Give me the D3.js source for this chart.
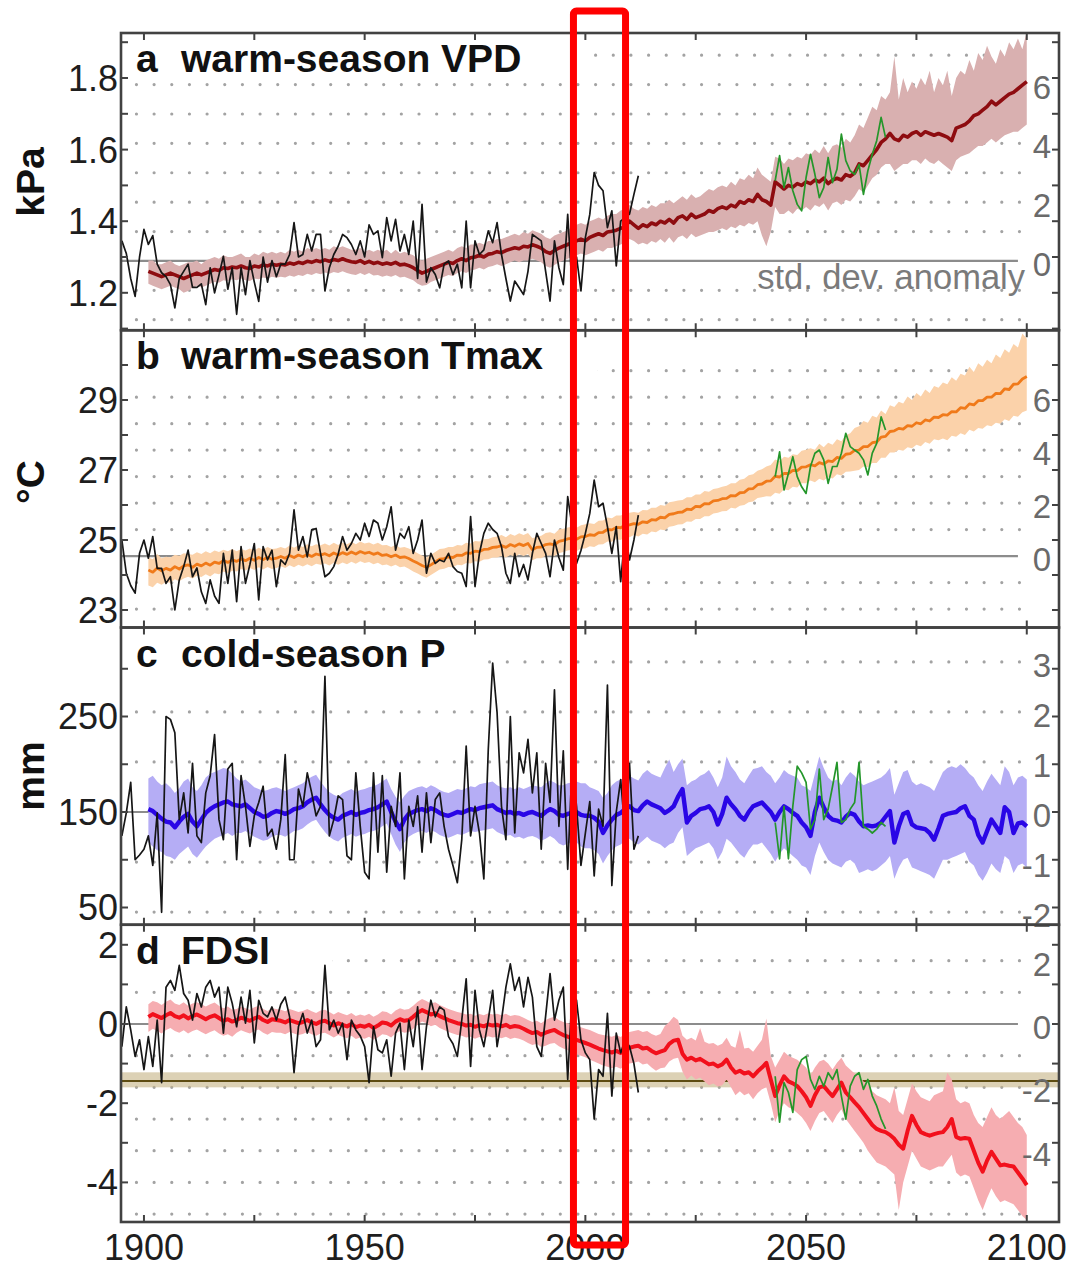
<!DOCTYPE html>
<html>
<head>
<meta charset="utf-8">
<script src="https://cdn.jsdelivr.net/npm/d3@7"></script>
<style>
  body { margin: 0; background: #fff; }
  svg { display: block; }
  text { font-family: "Liberation Sans", Arial, Helvetica, sans-serif; }
</style>
</head>
<body>
<svg id="chart" width="1071" height="1277"></svg>
<script>
// ---------------- data ----------------
const obsStart = 1895;     // observed record, annual
const modelStart = 1901;   // model ensemble, annual to 2100
const greenStart = 2043;   // single-run segment

const yearTicks = [1900, 1950, 2000, 2050, 2100];
const yearMinorTicks = [1900, 1925, 1950, 1975, 2000, 2025, 2050, 2075, 2100];
const highlightYears = [1997.3, 2009.1];

// a: warm-season VPD (kPa)
const vpdTicks = [1.2, 1.4, 1.6, 1.8];
const vpdMinorTicks = [1.1, 1.2, 1.3, 1.4, 1.5, 1.6, 1.7, 1.8, 1.9];
const vpdStdLabels = [0, 2, 4, 6];
const vpdStdRows = [-2, -1, 0, 1, 2, 3, 4, 5, 6, 7];
const vpdObs = [
  1.345,1.31,1.24,1.19,1.30,1.377,1.335,1.36,1.28,1.256,
  1.245,1.223,1.158,1.24,1.26,1.28,1.215,1.215,1.225,1.167,
  1.27,1.20,1.25,1.302,1.21,1.27,1.14,1.27,1.195,1.29,
  1.23,1.176,1.30,1.23,1.29,1.245,1.28,1.28,1.307,1.396,
  1.30,1.307,1.363,1.317,1.363,1.363,1.205,1.27,1.307,1.33,
  1.363,1.354,1.335,1.307,1.345,1.30,1.39,1.363,1.373,1.298,
  1.41,1.345,1.405,1.317,1.363,1.307,1.40,1.24,1.447,1.23,
  1.27,1.251,1.214,1.28,1.289,1.251,1.28,1.214,1.40,1.214,
  1.345,1.307,1.32,1.373,1.34,1.396,1.307,1.24,1.177,1.233,
  1.214,1.195,1.26,1.363,1.354,1.345,1.26,1.177,1.345,1.27,
  1.223,1.419,1.214,1.30,1.205,1.354,1.419,1.536,1.50,1.485,
  1.382,1.429,1.275,1.40,1.41,1.42,1.475,1.527
];
const vpdMean = [
  1.26,1.255,1.25,1.245,1.25,1.255,1.25,1.245,1.24,1.245,
  1.25,1.255,1.25,1.255,1.26,1.265,1.262,1.27,1.268,1.272,
  1.27,1.275,1.27,1.268,1.275,1.272,1.278,1.275,1.28,1.277,
  1.28,1.278,1.283,1.28,1.285,1.282,1.288,1.285,1.29,1.287,
  1.292,1.288,1.293,1.29,1.295,1.29,1.287,1.285,1.29,1.283,
  1.288,1.282,1.285,1.28,1.283,1.28,1.285,1.278,1.28,1.276,
  1.27,1.262,1.255,1.26,1.265,1.27,1.275,1.28,1.285,1.282,
  1.29,1.295,1.29,1.298,1.30,1.305,1.30,1.308,1.31,1.315,
  1.312,1.318,1.322,1.326,1.323,1.33,1.328,1.334,1.33,1.325,
  1.315,1.31,1.318,1.325,1.33,1.335,1.34,1.345,1.35,1.345,
  1.355,1.36,1.365,1.36,1.37,1.372,1.375,1.38,1.385,1.40,
  1.39,1.38,1.39,1.385,1.395,1.39,1.40,1.395,1.405,1.395,
  1.41,1.415,1.405,1.42,1.41,1.415,1.42,1.43,1.425,1.435,
  1.44,1.435,1.445,1.44,1.455,1.45,1.46,1.455,1.475,1.46,
  1.455,1.445,1.51,1.50,1.49,1.50,1.495,1.505,1.50,1.51,
  1.505,1.515,1.51,1.52,1.505,1.515,1.52,1.515,1.53,1.525,
  1.535,1.56,1.555,1.57,1.585,1.60,1.62,1.63,1.645,1.63,
  1.625,1.64,1.635,1.645,1.65,1.64,1.65,1.645,1.64,1.645,
  1.64,1.635,1.625,1.66,1.665,1.67,1.68,1.695,1.70,1.71,
  1.72,1.735,1.725,1.735,1.745,1.755,1.76,1.77,1.78,1.79
];
const vpdHi = [
  1.29,1.29,1.28,1.28,1.285,1.29,1.28,1.275,1.28,1.285,
  1.285,1.29,1.28,1.29,1.295,1.30,1.295,1.305,1.30,1.30,
  1.305,1.31,1.30,1.30,1.31,1.305,1.315,1.31,1.315,1.31,
  1.315,1.31,1.32,1.315,1.32,1.315,1.325,1.32,1.325,1.32,
  1.325,1.32,1.33,1.325,1.33,1.325,1.32,1.32,1.325,1.315,
  1.32,1.315,1.32,1.315,1.32,1.31,1.32,1.31,1.315,1.31,
  1.305,1.295,1.29,1.295,1.30,1.305,1.31,1.315,1.32,1.315,
  1.325,1.33,1.325,1.335,1.335,1.34,1.335,1.345,1.345,1.35,
  1.35,1.355,1.36,1.365,1.36,1.37,1.365,1.375,1.37,1.365,
  1.355,1.35,1.36,1.365,1.37,1.375,1.385,1.39,1.395,1.39,
  1.40,1.405,1.41,1.405,1.415,1.42,1.42,1.43,1.435,1.445,
  1.435,1.43,1.44,1.435,1.445,1.44,1.45,1.45,1.46,1.45,
  1.46,1.47,1.46,1.475,1.465,1.47,1.48,1.49,1.485,1.495,
  1.50,1.495,1.51,1.50,1.52,1.515,1.53,1.52,1.55,1.53,
  1.52,1.51,1.58,1.575,1.56,1.575,1.57,1.58,1.575,1.59,
  1.585,1.60,1.59,1.61,1.59,1.61,1.615,1.605,1.63,1.62,
  1.64,1.67,1.66,1.69,1.72,1.71,1.75,1.74,1.76,1.86,
  1.74,1.80,1.76,1.79,1.77,1.80,1.78,1.82,1.76,1.80,
  1.78,1.82,1.75,1.80,1.82,1.81,1.85,1.82,1.87,1.85,
  1.89,1.86,1.84,1.88,1.86,1.90,1.88,1.91,1.88,1.93
];
const vpdLo = [
  1.225,1.22,1.215,1.21,1.215,1.22,1.215,1.21,1.20,1.205,
  1.215,1.22,1.215,1.22,1.225,1.23,1.228,1.235,1.233,1.238,
  1.235,1.24,1.235,1.233,1.24,1.238,1.243,1.24,1.245,1.242,
  1.245,1.243,1.248,1.245,1.25,1.247,1.253,1.25,1.255,1.252,
  1.257,1.253,1.258,1.255,1.26,1.255,1.252,1.25,1.255,1.25,
  1.255,1.248,1.25,1.245,1.248,1.245,1.25,1.243,1.245,1.24,
  1.235,1.225,1.22,1.222,1.23,1.235,1.24,1.245,1.25,1.247,
  1.255,1.26,1.255,1.262,1.265,1.27,1.265,1.272,1.275,1.28,
  1.275,1.28,1.285,1.29,1.285,1.29,1.29,1.295,1.29,1.285,
  1.275,1.27,1.278,1.285,1.29,1.295,1.30,1.305,1.31,1.305,
  1.31,1.315,1.32,1.315,1.325,1.325,1.33,1.335,1.34,1.35,
  1.345,1.335,1.34,1.335,1.345,1.34,1.35,1.34,1.355,1.34,
  1.355,1.36,1.35,1.365,1.355,1.36,1.365,1.37,1.37,1.375,
  1.38,1.375,1.385,1.38,1.39,1.385,1.395,1.39,1.40,1.36,
  1.33,1.37,1.44,1.42,1.42,1.43,1.42,1.435,1.43,1.44,
  1.43,1.445,1.44,1.45,1.43,1.45,1.455,1.445,1.46,1.455,
  1.47,1.49,1.48,1.50,1.52,1.53,1.55,1.56,1.56,1.54,
  1.55,1.56,1.56,1.57,1.57,1.56,1.575,1.565,1.56,1.57,
  1.56,1.55,1.54,1.57,1.58,1.585,1.59,1.60,1.61,1.61,
  1.62,1.63,1.62,1.63,1.64,1.645,1.65,1.65,1.66,1.67
];
const vpdGreen = [
  1.513,1.583,1.494,1.55,1.485,1.447,1.429,1.522,1.587,1.531,
  1.466,1.494,1.578,1.508,1.545,1.643,1.569,1.541,1.531,1.559,
  1.475,1.541,1.587,1.625,1.69,1.634
];

// b: warm-season Tmax (°C)
const tmaxTicks = [23, 25, 27, 29];
const tmaxMinorTicks = [23, 24, 25, 26, 27, 28, 29, 30];
const tmaxStdLabels = [0, 2, 4, 6];
const tmaxStdRows = [-2, -1, 0, 1, 2, 3, 4, 5, 6, 7];
const tmaxObs = [
  25.0,24.05,23.7,23.48,24.62,25.0,24.48,25.10,24.19,24.19,
  23.76,23.95,23.0,23.86,24.24,24.71,23.95,24.2,23.52,23.19,
  23.86,23.4,23.19,24.62,23.76,24.71,23.24,24.81,23.76,24.3,
  24.90,23.29,24.81,24.43,24.71,23.67,24.43,24.3,24.62,25.86,
  24.71,25.10,24.52,25.29,25.33,24.62,23.95,24.05,24.24,24.6,
  25.10,24.71,24.9,25.19,25.0,25.48,25.10,25.57,25.48,25.0,
  25.38,25.95,24.71,25.19,25.05,25.38,24.62,25.0,25.57,24.05,
  24.62,24.33,24.43,24.38,24.62,24.24,24.1,24.05,23.67,25.67,
  23.67,24.62,25.19,25.48,25.3,25.19,24.81,24.05,23.76,24.62,
  23.95,24.3,23.86,24.62,25.19,24.9,24.62,23.95,25.0,24.5,
  24.14,26.24,25.38,24.33,24.7,25.19,25.76,26.71,25.95,26.05,
  25.38,24.62,25.38,23.81,25.19,24.43,25.0,25.71
];
const tmaxMean = [
  24.14,24.08,24.20,24.12,24.19,24.14,24.24,24.17,24.26,24.29,
  24.22,24.31,24.26,24.34,24.28,24.37,24.33,24.41,24.36,24.43,
  24.39,24.46,24.41,24.48,24.42,24.50,24.44,24.51,24.45,24.48,
  24.53,24.48,24.56,24.50,24.57,24.52,24.59,24.53,24.60,24.57,
  24.61,24.55,24.63,24.57,24.64,24.59,24.66,24.60,24.67,24.62,
  24.65,24.59,24.63,24.56,24.58,24.52,24.57,24.50,24.52,24.47,
  24.40,24.34,24.27,24.22,24.29,24.37,24.45,24.47,24.52,24.50,
  24.57,24.56,24.63,24.62,24.68,24.67,24.73,24.74,24.79,24.80,
  24.84,24.79,24.87,24.82,24.89,24.84,24.90,24.72,24.79,24.80,
  24.87,24.89,24.86,24.96,24.99,25.03,25.05,25.02,25.09,25.10,
  25.15,25.13,25.21,25.22,25.30,25.29,25.36,25.35,25.42,25.43,
  25.47,25.45,25.52,25.50,25.58,25.57,25.65,25.63,25.73,25.75,
  25.79,25.80,25.88,25.87,25.96,25.95,26.04,26.03,26.12,26.13,
  26.18,26.19,26.27,26.26,26.35,26.36,26.46,26.47,26.58,26.60,
  26.68,26.69,26.82,26.80,26.90,26.90,26.99,26.98,27.08,27.09,
  27.15,27.12,27.21,27.17,27.26,27.24,27.36,27.33,27.45,27.47,
  27.56,27.57,27.67,27.67,27.78,27.80,27.94,27.96,28.10,28.12,
  28.19,28.17,28.27,28.25,28.35,28.32,28.43,28.40,28.51,28.50,
  28.58,28.57,28.67,28.66,28.78,28.76,28.89,28.86,28.98,28.98,
  29.08,29.08,29.19,29.18,29.32,29.30,29.45,29.46,29.60,29.67
];
const tmaxHi = [
  24.50,24.45,24.60,24.48,24.52,24.50,24.58,24.55,24.62,24.60,
  24.58,24.65,24.60,24.68,24.62,24.70,24.66,24.72,24.68,24.74,
  24.68,24.74,24.70,24.76,24.70,24.78,24.72,24.80,24.74,24.76,
  24.80,24.76,24.84,24.78,24.85,24.80,24.88,24.82,24.88,24.85,
  24.90,24.84,24.92,24.86,24.93,24.88,24.95,24.88,24.96,24.90,
  24.93,24.87,24.92,24.85,24.86,24.80,24.86,24.78,24.80,24.76,
  24.70,24.62,24.56,24.50,24.58,24.66,24.74,24.76,24.80,24.80,
  24.86,24.84,24.92,24.90,24.97,24.96,25.02,25.03,25.08,25.10,
  25.14,25.08,25.17,25.12,25.19,25.14,25.20,25.05,25.10,25.12,
  25.20,25.22,25.18,25.30,25.32,25.36,25.38,25.35,25.42,25.45,
  25.48,25.46,25.55,25.56,25.64,25.62,25.70,25.70,25.76,25.78,
  25.80,25.78,25.86,25.85,25.92,25.92,26.00,25.98,26.08,26.10,
  26.13,26.14,26.22,26.22,26.30,26.30,26.40,26.38,26.46,26.48,
  26.52,26.55,26.62,26.62,26.72,26.75,26.85,26.88,26.98,27.02,
  27.10,27.14,27.30,27.25,27.38,27.35,27.45,27.43,27.55,27.58,
  27.62,27.58,27.75,27.65,27.78,27.72,27.88,27.82,28.00,28.05,
  28.20,28.25,28.40,28.35,28.55,28.50,28.70,28.60,28.85,28.80,
  28.95,28.90,29.10,29.00,29.20,29.10,29.30,29.20,29.40,29.35,
  29.50,29.45,29.65,29.55,29.75,29.70,29.95,29.80,30.05,29.95,
  30.15,30.05,30.30,30.20,30.45,30.35,30.60,30.50,30.90,30.75
];
const tmaxLo = [
  23.70,23.65,23.78,23.72,23.80,23.78,23.88,23.82,23.90,23.95,
  23.90,23.98,23.94,24.02,23.96,24.05,24.02,24.10,24.05,24.12,
  24.10,24.17,24.13,24.20,24.14,24.22,24.16,24.23,24.17,24.20,
  24.25,24.20,24.28,24.22,24.29,24.24,24.31,24.25,24.32,24.29,
  24.33,24.27,24.35,24.29,24.36,24.31,24.38,24.32,24.39,24.34,
  24.37,24.31,24.35,24.28,24.30,24.24,24.29,24.22,24.24,24.18,
  24.10,24.04,23.97,23.92,24.00,24.08,24.16,24.18,24.23,24.22,
  24.29,24.28,24.34,24.33,24.39,24.38,24.44,24.45,24.50,24.50,
  24.54,24.50,24.57,24.52,24.59,24.54,24.60,24.42,24.48,24.48,
  24.55,24.56,24.54,24.62,24.66,24.70,24.72,24.68,24.76,24.76,
  24.82,24.80,24.87,24.88,24.96,24.95,25.02,25.00,25.08,25.08,
  25.14,25.10,25.18,25.16,25.24,25.22,25.30,25.28,25.38,25.40,
  25.44,25.45,25.53,25.52,25.60,25.60,25.68,25.68,25.76,25.78,
  25.82,25.83,25.92,25.90,25.98,26.00,26.08,26.10,26.20,26.22,
  26.25,26.24,26.35,26.32,26.44,26.42,26.52,26.50,26.62,26.62,
  26.70,26.65,26.75,26.70,26.80,26.76,26.88,26.84,26.95,26.96,
  26.98,27.00,27.10,27.08,27.20,27.20,27.35,27.35,27.50,27.50,
  27.58,27.55,27.65,27.62,27.72,27.68,27.80,27.75,27.88,27.85,
  27.90,27.85,27.98,27.95,28.05,28.00,28.15,28.10,28.20,28.18,
  28.28,28.25,28.35,28.32,28.45,28.40,28.55,28.52,28.65,28.70
];
const tmaxGreen = [
  26.81,27.52,26.43,26.90,27.38,26.81,26.52,26.33,27.10,27.48,
  27.57,27.29,26.62,27.10,27.10,27.48,28.05,27.67,27.57,27.48,
  27.29,26.86,27.48,27.76,28.52,28.14
];

// c: cold-season P (mm)
const precipTicks = [50, 150, 250];
const precipMinorTicks = [50, 100, 150, 200, 250, 300];
const precipStdLabels = [-2, -1, 0, 1, 2, 3];
const precipStdRows = [-2, -1, 0, 1, 2, 3];
const precipObs = [
  125,149,181,100,105,111,125,94,149,45,
  250,247,233,142,170,128,201,125,118,170,
  188,231,142,121,195,201,100,188,156,114,
  146,160,177,125,132,111,142,210,100,100,
  174,156,191,170,146,156,292,125,142,167,
  163,104,100,191,135,87,80,191,108,188,
  87,156,135,191,80,156,135,167,108,170,
  118,163,170,135,111,94,76,121,219,125,
  156,128,80,215,306,254,156,121,250,128,
  212,191,226,170,212,111,201,160,278,135,
  214,90,201,156,94,128,161,83,153,135,
  283,73,150,184,128,201,111,125
];
const precipMean = [
  153,151,147,143,140,139,134,140,145,148,
  140,135,142,149,153,156,158,160,161,158,
  157,156,158,154,150,148,145,146,149,151,
  150,148,150,153,154,156,160,163,165,158,
  152,147,144,142,146,148,150,147,149,150,
  152,153,155,158,161,150,140,132,142,148,
  150,152,153,151,154,152,149,147,146,148,
  150,149,151,153,152,154,155,156,157,153,
  151,149,150,148,149,147,149,150,148,146,
  150,153,151,147,146,148,149,150,147,146,
  146,144,140,128,136,142,147,149,153,156,
  152,151,157,161,158,156,154,149,152,156,
  166,174,139,146,149,153,154,156,150,137,
  148,165,158,153,146,142,150,156,158,160,
  155,150,142,150,156,153,149,146,139,134,
  125,150,165,155,146,142,141,139,145,149,
  147,140,135,136,135,136,139,145,151,118,
  135,148,150,137,134,133,132,128,121,133,
  146,148,149,150,154,156,146,142,126,118,
  130,142,135,128,155,150,128,138,139,135
];
const precipHi = [
  185,188,182,178,180,176,170,175,182,185,
  176,172,178,186,190,192,194,196,195,190,
  185,182,184,180,176,174,172,173,175,176,
  174,172,174,176,178,180,184,187,189,182,
  176,171,168,166,170,172,174,171,173,174,
  176,177,179,182,185,174,166,160,167,172,
  174,176,177,175,178,176,173,171,170,172,
  174,173,175,177,176,179,180,181,182,178,
  176,175,176,174,176,174,176,178,177,176,
  180,183,181,178,178,180,181,182,180,180,
  176,174,172,165,170,178,182,184,186,188,
  185,183,190,194,190,188,186,196,205,192,
  200,206,178,182,184,188,190,194,186,176,
  186,208,198,192,184,180,188,195,196,198,
  192,188,180,186,194,190,188,186,178,176,
  172,190,208,196,186,182,184,178,186,192,
  188,182,178,180,182,184,186,190,196,168,
  180,192,194,182,178,180,178,176,172,182,
  192,196,198,196,200,196,190,186,178,172,
  182,190,184,178,198,192,178,186,188,184
];
const precipLo = [
  118,114,110,108,104,103,100,106,110,114,
  106,102,108,114,118,122,124,126,128,125,
  128,128,130,127,124,122,120,121,124,126,
  126,124,127,130,131,133,137,140,142,135,
  129,124,121,119,123,125,127,124,126,127,
  129,130,132,135,138,127,116,108,118,124,
  127,129,130,128,131,129,126,124,123,125,
  127,126,128,130,129,130,131,132,133,129,
  127,125,126,123,124,122,124,125,123,120,
  122,125,122,117,115,117,118,118,114,112,
  112,110,106,96,104,110,114,116,120,122,
  118,116,120,124,120,118,116,112,116,118,
  128,134,104,108,112,114,116,118,112,100,
  108,122,118,112,106,102,110,116,116,118,
  112,106,98,106,112,108,104,100,94,92,
  84,104,118,108,100,96,94,92,98,100,
  96,86,88,90,88,90,94,98,104,80,
  92,100,102,92,90,88,86,84,80,90,
  100,100,102,104,106,108,98,94,84,78,
  86,96,90,86,104,100,86,94,96,92
];
const precipGreen = [
  139,101,156,101,156,198,191,181,132,142,
  195,142,153,177,202,139,142,153,160,202,
  135,132,128,132,139,135
];

// d: FDSI
const fdsiTicks = [-4, -2, 0, 2];
const fdsiMinorTicks = [-4, -3, -2, -1, 0, 1, 2];
const fdsiStdLabels = [-4, -2, 0, 2];
const fdsiStdRows = [-6, -5, -4, -3, -2, -1, 0, 1, 2];
const droughtBand = [-1.6, -1.22];
const droughtLevel = -1.44;
const fdsiObs = [
  -0.57,0.43,-0.15,-0.82,-0.4,-1.15,-0.32,-1.07,0.1,-1.48,
  0.93,1.1,0.85,1.48,0.77,0.6,0.1,0.77,0.43,0.93,
  1.1,0.68,0.93,-0.23,0.93,0.52,-0.07,0.68,0.02,0.85,
  -0.48,0.6,0.27,0.18,0.43,0.1,0.5,0.68,0.18,-1.23,
  -0.07,0.27,-0.23,0.1,-0.57,-0.4,1.48,-0.15,0.1,-0.23,
  0.02,-0.9,0.1,-0.15,-0.3,-0.57,-1.48,-0.07,-0.65,-0.73,
  -0.4,-1.32,-0.23,0.02,-1.15,0.1,-0.57,0.43,-1.15,-0.07,
  0.6,0.18,0.43,0.35,-0.32,-0.5,-0.82,0.1,1.14,-1.07,
  0.85,-0.15,-0.57,0.1,0.85,-0.57,0.1,0.93,1.52,0.85,
  1.18,0.43,1.18,0.68,-0.57,-0.82,0.2,1.27,0.1,0.6,
  0.93,-1.4,0.77,0.6,-0.4,-0.73,-0.9,-2.4,-1.15,-1.32,
  0.27,-1.82,-0.23,-0.73,-0.4,-0.57,-1.0,-1.73
];
const fdsiMean = [
  0.18,0.25,0.20,0.15,0.22,0.28,0.20,0.16,0.22,0.14,
  0.20,0.24,0.18,0.12,0.18,0.22,0.15,0.08,0.12,0.06,
  0.10,0.16,0.12,0.08,0.14,0.18,0.10,0.05,0.12,0.10,
  0.08,0.04,0.10,0.06,0.02,0.05,0.10,0.04,0.00,0.06,
  0.08,0.02,-0.04,0.02,-0.02,-0.06,0.00,-0.08,-0.04,-0.07,
  -0.02,-0.10,-0.04,0.04,0.02,-0.04,0.06,0.12,0.08,0.10,
  0.18,0.28,0.35,0.30,0.24,0.27,0.20,0.15,0.10,0.06,
  0.02,0.00,-0.04,-0.02,-0.07,-0.03,-0.06,-0.01,-0.04,-0.02,
  -0.06,-0.02,-0.08,-0.05,-0.07,-0.12,-0.18,-0.23,-0.20,-0.27,
  -0.22,-0.18,-0.15,-0.22,-0.28,-0.32,-0.36,-0.40,-0.44,-0.48,
  -0.52,-0.57,-0.62,-0.66,-0.69,-0.72,-0.68,-0.73,-0.65,-0.60,
  -0.57,-0.55,-0.62,-0.60,-0.68,-0.74,-0.70,-0.66,-0.50,-0.42,
  -0.40,-0.75,-0.90,-0.85,-0.92,-0.88,-0.95,-1.02,-1.00,-1.07,
  -1.02,-0.90,-1.10,-1.23,-1.18,-1.25,-1.22,-1.32,-1.20,-1.10,
  -0.98,-1.40,-1.82,-1.55,-1.32,-1.45,-1.50,-1.57,-1.70,-1.85,
  -2.07,-1.80,-1.60,-1.57,-1.70,-1.82,-1.65,-1.48,-1.73,-1.85,
  -1.98,-2.10,-2.25,-2.40,-2.55,-2.65,-2.70,-2.73,-2.80,-2.90,
  -3.05,-3.15,-2.70,-2.32,-2.55,-2.73,-2.78,-2.82,-2.78,-2.75,
  -2.73,-2.60,-2.40,-2.85,-2.90,-2.88,-2.90,-3.20,-3.50,-3.73,
  -3.45,-3.23,-3.40,-3.57,-3.55,-3.58,-3.60,-3.75,-3.90,-4.07
];
const fdsiHi = [
  0.50,0.58,0.55,0.48,0.56,0.62,0.52,0.48,0.55,0.46,
  0.52,0.55,0.50,0.44,0.50,0.54,0.46,0.40,0.44,0.36,
  0.38,0.44,0.40,0.36,0.42,0.46,0.38,0.33,0.40,0.38,
  0.36,0.32,0.38,0.34,0.30,0.33,0.38,0.32,0.28,0.34,
  0.36,0.30,0.24,0.30,0.26,0.22,0.28,0.20,0.24,0.21,
  0.26,0.18,0.24,0.32,0.30,0.24,0.34,0.40,0.36,0.38,
  0.46,0.56,0.63,0.58,0.52,0.55,0.48,0.43,0.38,0.34,
  0.30,0.28,0.24,0.26,0.21,0.25,0.22,0.27,0.24,0.26,
  0.22,0.26,0.20,0.23,0.21,0.16,0.10,0.05,0.08,0.02,
  0.10,0.15,0.18,0.10,0.05,0.02,-0.02,-0.05,-0.08,-0.12,
  -0.15,-0.20,-0.25,-0.28,-0.30,-0.32,-0.28,-0.33,-0.25,-0.20,
  -0.18,-0.15,-0.20,-0.18,-0.25,-0.30,-0.25,-0.05,0.05,0.18,
  0.10,-0.30,-0.40,-0.35,-0.42,-0.10,-0.45,-0.50,-0.48,-0.55,
  -0.50,-0.35,-0.55,-0.60,-0.15,-0.62,-0.60,-0.70,-0.55,-0.40,
  0.14,-0.80,-1.10,-0.90,-0.70,-0.80,-0.85,-0.90,-1.00,-1.10,
  -1.30,-1.10,-0.95,-0.90,-1.00,-1.15,-0.98,-0.85,-1.05,-1.15,
  -1.25,-1.30,-1.45,-1.55,-1.70,-1.80,-1.85,-1.90,-2.00,-1.60,
  -2.20,-2.30,-1.90,-1.50,-1.70,-1.85,-1.90,-1.95,-1.80,-1.75,
  -1.70,-1.23,-1.40,-1.90,-2.00,-1.95,-2.00,-2.30,-2.50,-2.60,
  -2.35,-2.10,-2.30,-2.40,-2.30,-2.20,-2.35,-2.50,-2.60,-2.80
];
const fdsiLo = [
  -0.20,-0.12,-0.18,-0.24,-0.15,-0.10,-0.18,-0.22,-0.16,-0.24,
  -0.18,-0.14,-0.20,-0.26,-0.20,-0.16,-0.24,-0.30,-0.26,-0.32,
  -0.22,-0.16,-0.20,-0.24,-0.18,-0.14,-0.22,-0.27,-0.20,-0.22,
  -0.22,-0.26,-0.20,-0.24,-0.28,-0.25,-0.20,-0.26,-0.30,-0.24,
  -0.22,-0.28,-0.34,-0.28,-0.32,-0.36,-0.30,-0.38,-0.34,-0.37,
  -0.32,-0.40,-0.34,-0.26,-0.28,-0.34,-0.24,-0.18,-0.22,-0.20,
  -0.12,-0.02,0.06,0.02,-0.06,-0.02,-0.10,-0.15,-0.20,-0.24,
  -0.28,-0.30,-0.34,-0.32,-0.37,-0.33,-0.36,-0.31,-0.34,-0.32,
  -0.36,-0.32,-0.38,-0.35,-0.37,-0.42,-0.48,-0.53,-0.50,-0.58,
  -0.55,-0.50,-0.48,-0.56,-0.62,-0.66,-0.72,-0.76,-0.80,-0.84,
  -0.90,-0.95,-1.00,-1.05,-1.08,-1.12,-1.08,-1.13,-1.05,-1.00,
  -0.98,-0.95,-1.02,-1.00,-1.10,-1.18,-1.12,-1.10,-0.95,-0.88,
  -0.85,-1.20,-1.40,-1.30,-1.40,-1.35,-1.45,-1.55,-1.50,-1.58,
  -1.55,-1.40,-1.60,-1.80,-1.70,-1.80,-1.75,-1.90,-1.75,-1.65,
  -1.60,-2.00,-2.48,-2.20,-2.00,-2.10,-2.15,-2.25,-2.35,-2.50,
  -2.70,-2.45,-2.25,-2.20,-2.35,-2.50,-2.30,-2.15,-2.40,-2.55,
  -2.70,-2.85,-3.00,-3.20,-3.35,-3.50,-3.55,-3.60,-3.70,-3.80,
  -4.70,-4.00,-3.60,-3.20,-3.40,-3.60,-3.65,-3.70,-3.65,-3.60,
  -3.60,-3.45,-3.30,-3.75,-3.85,-3.80,-3.85,-4.15,-4.45,-4.70,
  -4.40,-4.15,-4.35,-4.50,-4.45,-4.50,-4.55,-4.70,-4.85,-4.95
];
const fdsiGreen = [
  -1.32,-2.48,-1.48,-1.73,-2.23,-1.15,-0.9,-0.82,-1.4,-1.65,
  -1.32,-1.57,-1.23,-1.4,-1.15,-1.82,-2.4,-1.57,-1.32,-1.23,
  -1.65,-1.4,-1.82,-2.07,-2.4,-2.65
];

// ---------------- panel setup ----------------
const panels = [
  { letter: "a", name: "warm-season VPD", unit: "kPa", unitY: 182,
    obs: vpdObs, mean: vpdMean, lo: vpdLo, hi: vpdHi, green: vpdGreen,
    ticks: vpdTicks, minor: vpdMinorTicks, domain: [1.0954, 1.9257],
    stdZero: 1.289, stdStep: 0.0821, stdRows: vpdStdRows, stdLabels: vpdStdLabels,
    line: "#8e0c10", lineW: 3.6, band: "#d9b0b0", titleBoxRight: 590, stdNote: true },
  { letter: "b", name: "warm-season Tmax", unit: "°C", unitY: 482,
    obs: tmaxObs, mean: tmaxMean, lo: tmaxLo, hi: tmaxHi, green: tmaxGreen,
    ticks: tmaxTicks, minor: tmaxMinorTicks, domain: [22.5, 30.993],
    stdZero: 24.54, stdStep: 0.757, stdRows: tmaxStdRows, stdLabels: tmaxStdLabels,
    line: "#f07a1a", lineW: 2.8, band: "#fbd2aa", titleBoxRight: 597 },
  { letter: "c", name: "cold-season P", unit: "mm", unitY: 776,
    obs: precipObs, mean: precipMean, lo: precipLo, hi: precipHi, green: precipGreen,
    ticks: precipTicks, minor: precipMinorTicks, domain: [31.94, 343.2],
    stdZero: 150, stdStep: 52.4, stdRows: precipStdRows, stdLabels: precipStdLabels,
    line: "#2a06e6", lineW: 4.4, band: "#b5adf5", titleBoxRight: 487 },
  { letter: "d", name: "FDSI", unit: null,
    obs: fdsiObs, mean: fdsiMean, lo: fdsiLo, hi: fdsiHi, green: fdsiGreen,
    ticks: fdsiTicks, minor: fdsiMinorTicks, domain: [-5.0, 2.506],
    stdZero: 0, stdStep: 0.8, stdRows: fdsiStdRows, stdLabels: fdsiStdLabels,
    line: "#f2101c", lineW: 4.0, band: "#f6adb1", titleBoxRight: 332, drought: true }
];

// ---------------- drawing ----------------
const W = 1071, H = 1277;
const frameLeft = 121, frameRight = 1059, frameTop = 33, panelH = 297.25;
const frameColor = "#424242";
const tickLen = 7;

const svg = d3.select("#chart");
svg.append("rect").attr("width", W).attr("height", H).attr("fill", "#fff");

const x = d3.scaleLinear().domain([1894.8, 2107.3]).range([frameLeft, frameRight]);

panels.forEach((p, i) => {
  const top = frameTop + i * panelH;
  const bottom = top + panelH;
  const y = d3.scaleLinear().domain(p.domain).range([bottom, top]);
  const stdY = s => y(p.stdZero + s * p.stdStep);

  const clipId = "panel-clip-" + i;
  svg.append("clipPath").attr("id", clipId)
    .append("rect").attr("x", frameLeft).attr("y", top)
    .attr("width", frameRight - frameLeft).attr("height", panelH);

  const g = svg.append("g").attr("clip-path", `url(#${clipId})`);

  // dotted std-anomaly grid rows
  g.selectAll("line.grid").data(p.stdRows.filter(s => s !== 0)).join("line")
    .attr("class", "grid")
    .attr("x1", x(1898.3)).attr("x2", x(2101))
    .attr("y1", d => stdY(d)).attr("y2", d => stdY(d))
    .attr("stroke", "#a3a3a3").attr("stroke-width", 3.2)
    .attr("stroke-linecap", "round").attr("stroke-dasharray", "0 17.66");

  // zero anomaly line
  g.append("line")
    .attr("x1", frameLeft).attr("x2", x(2098))
    .attr("y1", stdY(0)).attr("y2", stdY(0))
    .attr("stroke", "#8c8c8c").attr("stroke-width", 2.2);

  // drought threshold band
  if (p.drought) {
    g.append("rect")
      .attr("x", frameLeft).attr("width", frameRight - frameLeft)
      .attr("y", y(droughtBand[1])).attr("height", y(droughtBand[0]) - y(droughtBand[1]))
      .attr("fill", "#c4b383").attr("opacity", 0.6);
    g.append("line")
      .attr("x1", frameLeft).attr("x2", frameRight)
      .attr("y1", y(droughtLevel)).attr("y2", y(droughtLevel))
      .attr("stroke", "#5e4c12").attr("stroke-width", 1.8);
  }

  // white box behind the panel title
  g.append("rect")
    .attr("x", frameLeft + 1).attr("y", top + 2)
    .attr("width", p.titleBoxRight - frameLeft - 1).attr("height", 44)
    .attr("fill", "#fff");

  // ensemble spread
  const area = d3.area()
    .x((d, k) => x(modelStart + k))
    .y0((d, k) => y(p.lo[k]))
    .y1((d, k) => y(p.hi[k]));
  g.append("path").datum(p.mean).attr("d", area).attr("fill", p.band);

  // ensemble mean
  const meanLine = d3.line().x((d, k) => x(modelStart + k)).y(d => y(d));
  g.append("path").datum(p.mean).attr("d", meanLine)
    .attr("fill", "none").attr("stroke", p.line).attr("stroke-width", p.lineW)
    .attr("stroke-linejoin", "round");

  // observed record
  const obsLine = d3.line().x((d, k) => x(obsStart + k)).y(d => y(d));
  g.append("path").datum(p.obs).attr("d", obsLine)
    .attr("fill", "none").attr("stroke", "#161616").attr("stroke-width", 1.7)
    .attr("stroke-linejoin", "round");

  // single-run segment
  const greenLine = d3.line().x((d, k) => x(greenStart + k)).y(d => y(d));
  g.append("path").datum(p.green).attr("d", greenLine)
    .attr("fill", "none").attr("stroke", "#24962a").attr("stroke-width", 1.7)
    .attr("stroke-linejoin", "round");

  // frame
  svg.append("rect")
    .attr("x", frameLeft).attr("y", top)
    .attr("width", frameRight - frameLeft).attr("height", panelH)
    .attr("fill", "none").attr("stroke", frameColor).attr("stroke-width", 2.6);

  // left / right ticks
  p.minor.forEach(v => {
    const yy = y(v);
    if (yy < top + 1 || yy > bottom - 1) return;
    svg.append("line").attr("x1", frameLeft).attr("x2", frameLeft + tickLen)
      .attr("y1", yy).attr("y2", yy).attr("stroke", frameColor).attr("stroke-width", 2);
    svg.append("line").attr("x1", frameRight).attr("x2", frameRight - tickLen)
      .attr("y1", yy).attr("y2", yy).attr("stroke", frameColor).attr("stroke-width", 2);
  });

  // top / bottom ticks
  yearMinorTicks.forEach(yr => {
    svg.append("line").attr("x1", x(yr)).attr("x2", x(yr))
      .attr("y1", top).attr("y2", top + tickLen).attr("stroke", frameColor).attr("stroke-width", 2);
    svg.append("line").attr("x1", x(yr)).attr("x2", x(yr))
      .attr("y1", bottom).attr("y2", bottom - tickLen).attr("stroke", frameColor).attr("stroke-width", 2);
  });

  // left tick labels
  svg.selectAll(null).data(p.ticks).join("text")
    .attr("x", frameLeft - 3).attr("y", d => y(d))
    .attr("dy", "0.36em").attr("text-anchor", "end")
    .attr("font-size", 36).attr("fill", "#1e1e1e")
    .text(d => String(d));

  // right std-anomaly labels
  svg.selectAll(null).data(p.stdLabels).join("text")
    .attr("x", 1051).attr("y", d => stdY(d) + 3)
    .attr("dy", "0.36em").attr("text-anchor", "end")
    .attr("font-size", 33).attr("fill", "#6a6a6a")
    .text(d => String(d));

  if (p.stdNote) {
    svg.append("text")
      .attr("x", 1025).attr("y", stdY(0) + 28)
      .attr("text-anchor", "end").attr("font-size", 34.5).attr("fill", "#7a7a7a")
      .text("std. dev. anomaly");
  }

  // panel title
  svg.append("text").attr("x", 136).attr("y", top + 39)
    .attr("font-size", 39).attr("font-weight", "bold").attr("fill", "#111")
    .text(p.letter);
  svg.append("text").attr("x", 181).attr("y", top + 39)
    .attr("font-size", 39).attr("font-weight", "bold").attr("fill", "#111")
    .text(p.name);

  // unit label
  if (p.unit) {
    svg.append("text")
      .attr("transform", `translate(44,${p.unitY}) rotate(-90)`)
      .attr("text-anchor", "middle")
      .attr("font-size", 39).attr("font-weight", "bold").attr("fill", "#111")
      .text(p.unit);
  }

  // year labels under the last panel
  if (i === panels.length - 1) {
    svg.selectAll(null).data(yearTicks).join("text")
      .attr("x", d => x(d)).attr("y", bottom + 38)
      .attr("text-anchor", "middle").attr("font-size", 36).attr("fill", "#1e1e1e")
      .text(d => String(d));
  }
});

// highlighted period
svg.append("rect")
  .attr("x", x(highlightYears[0])).attr("y", 11)
  .attr("width", x(highlightYears[1]) - x(highlightYears[0])).attr("height", 1234)
  .attr("rx", 3)
  .attr("fill", "none").attr("stroke", "#ff0000").attr("stroke-width", 7);
</script>
</body>
</html>
